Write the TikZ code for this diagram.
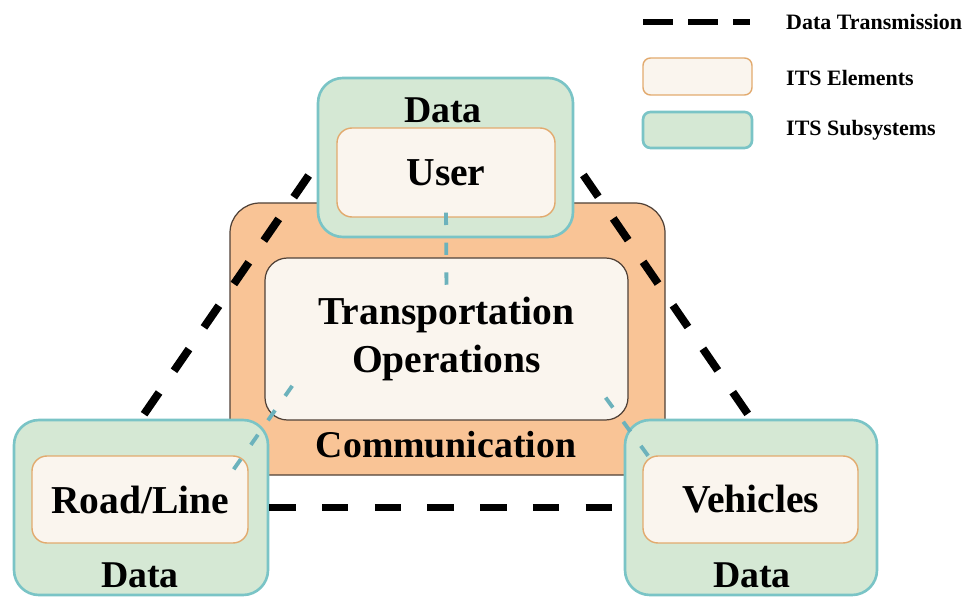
\documentclass[tikz,border=0pt]{standalone}
\usepackage{fontspec}
\setmainfont{Liberation Serif}
\usetikzlibrary{calc}

\definecolor{commorange}{RGB}{249,196,150}
\definecolor{subgreen}{RGB}{213,232,212}
\definecolor{subteal}{RGB}{122,196,198}
\definecolor{elemfill}{RGB}{250,245,238}
\definecolor{elemorange}{RGB}{226,170,110}
\definecolor{boxedge}{RGB}{80,65,55}
\definecolor{linkteal}{RGB}{108,178,188}

\tikzset{
	subsys/.style={draw=subteal, line width=1.5pt, fill=subgreen, rounded corners=0.5cm},
	elem/.style={draw=elemorange, line width=0.8pt, fill=elemfill, rounded corners=0.3cm,
		font=\fontsize{22.5}{27}\selectfont\bfseries},
	datatext/.style={font=\fontsize{21.5}{25}\selectfont\bfseries},
	transline/.style={black, line width=4.5pt, dash pattern=on 15pt off 15pt},
	gatelink/.style={linkteal, line width=2.2pt, dash pattern=on 7pt off 10pt},
	legendtext/.style={font=\fontsize{12.5}{15}\selectfont\bfseries, anchor=west},
}

\begin{document}
\begin{tikzpicture}
\useasboundingbox (0,0) rectangle (19.52,11.92);

%Communication
\node [draw=boxedge, line width=0.7pt, fill=commorange, rounded corners=0.6cm,
	minimum width=8.7cm,
	minimum height=5.44cm,
]  (commbox) at (8.95,5.14) {};
\node [datatext]  (commtext) at (8.92,3.02) {Communication};

%Transportation Operations
\node [draw=boxedge, line width=0.7pt, fill=elemfill, rounded corners=0.45cm,
	minimum width=7.26cm,
	minimum height=3.24cm,
	align=center, font=\fontsize{22.5}{27}\selectfont\bfseries,
]  (ops) at (8.93,5.14) {Transportation\\Operations};

%User Subsystem
\node [subsys,
	minimum width=5.1cm,
	minimum height=3.18cm,
]  (usersub) at (8.91,8.77) {};
\node [datatext]  (userdata) at (8.86,9.72) {Data};
\node [elem,
	minimum width=4.36cm,
	minimum height=1.78cm,
]  (userel) at (8.92,8.47) {User};

%Road/Line Subsystem
\node [subsys,
	minimum width=5.08cm,
	minimum height=3.5cm,
]  (roadsub) at (2.82,1.77) {};
\node [elem,
	minimum width=4.32cm,
	minimum height=1.74cm,
]  (roadel) at (2.8,1.93) {Road/Line};
\node [datatext]  (roaddata) at (2.8,0.42) {Data};

%Vehicles Subsystem
\node [subsys,
	minimum width=5.04cm,
	minimum height=3.5cm,
]  (vehsub) at (15.02,1.77) {};
\node [elem,
	minimum width=4.3cm,
	minimum height=1.74cm,
]  (vehel) at (15.01,1.93) {Vehicles};
\node [datatext]  (vehdata) at (15.04,0.42) {Data};

%Data Transmission
\coordinate (ul) at ($(usersub.west)+(-0.16,-0.36)$);
\coordinate (ur) at ($(usersub.east)+(0.18,-0.35)$);
\draw[transline] (ul) -- (roadsub.north);
\draw[transline] (ur) -- (vehsub.north);
\draw[transline] (roadsub.east) -- (vehsub.west);

%Links to Transportation Operations
\draw[gatelink] ($(userel.south)+(0,0.1)$) -- ($(ops.north)+(0,-0.64)$);
\draw[gatelink] ($(roadel.north east)+(-0.3,-0.28)$) -- ($(ops.south west)+(0.7,0.9)$);
\draw[gatelink] ($(ops.south east)+(-0.46,0.46)$) -- ($(vehel.north west)+(0.24,-0.18)$);

%Legend
\coordinate (lga) at (12.86,11.48);
\coordinate (lgb) at (15.0,11.48);
\draw[transline, line width=3.5pt, dash pattern=on 0.6cm off 0.3cm] (lga) -- (lgb);
\node [legendtext]  (lgtrans) at (15.6,11.48) {Data Transmission};

\node [elem, rounded corners=0.15cm,
	minimum width=2.18cm,
	minimum height=0.74cm,
]  (lgelem) at (13.95,10.39) {};
\node [legendtext]  (lgelemtext) at (15.6,10.36) {ITS Elements};

\node [subsys, rounded corners=0.15cm,
	minimum width=2.18cm,
	minimum height=0.72cm,
]  (lgsub) at (13.95,9.32) {};
\node [legendtext]  (lgsubtext) at (15.6,9.32) {ITS Subsystems};

\end{tikzpicture}
\end{document}
